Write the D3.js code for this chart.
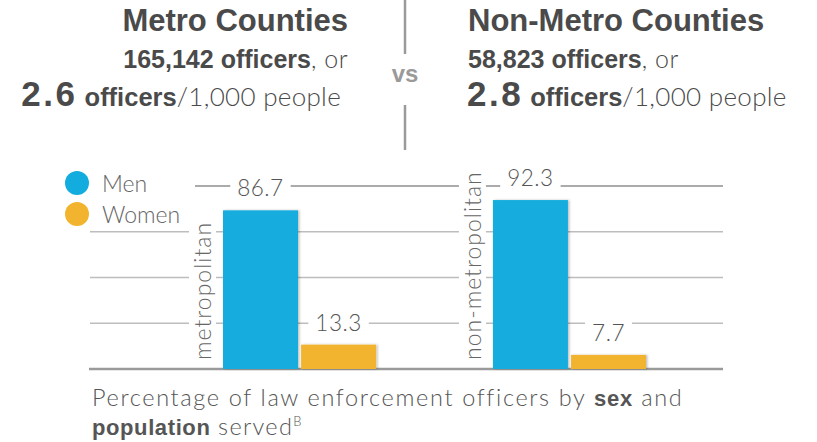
<!DOCTYPE html>
<html><head><meta charset="utf-8">
<script src="https://cdn.jsdelivr.net/npm/d3@7"></script>
<style>body{margin:0;background:#fff}svg{display:block}</style>
</head><body>
<script>
// ---- data ----
const groups = ["metropolitan", "non-metropolitan"];
const sexes = ["Men", "Women"];
const men = [86.7, 92.3];
const women = [13.3, 7.7];
const yTicks = [0, 25, 50, 75, 100];
const titles = ["Metro Counties", "Non-Metro Counties"];
const officers = ["165,142", "58,823"];
const rates = ["2.6", "2.8"];
const colors = ["#12ADDE", "#F2B42E"];

// ---- setup ----
const W = 817, H = 442;
const svg = d3.select("body").append("svg").attr("width", W).attr("height", H);
const LIGHT = "Lato, 'Open Sans', 'DejaVu Sans', sans-serif";
const BOLD = "'Liberation Sans', Arial, sans-serif";
const TXT = "#4a4a4a";

// ---- header ----
function header(i, x, anchor, end3) {
  const g = svg.append("g").attr("fill", TXT);
  g.append("text").attr("x", x).attr("y", 31).attr("text-anchor", anchor)
    .attr("font-family", BOLD).attr("font-weight", 700).attr("font-size", 31)
    .text(titles[i]);
  const t2 = g.append("text").attr("x", x).attr("y", 68).attr("text-anchor", anchor);
  t2.append("tspan").attr("font-family", BOLD).attr("font-weight", 700).attr("font-size", 25)
    .text(officers[i] + " officers");
  t2.append("tspan").attr("font-family", LIGHT).attr("font-weight", 300).attr("font-size", 25)
    .attr("letter-spacing", 0.5).text(", or");
  const t3 = g.append("text").attr("x", end3).attr("y", 106).attr("text-anchor", anchor);
  t3.append("tspan").attr("font-family", BOLD).attr("font-weight", 700).attr("font-size", 35)
    .attr("letter-spacing", 2.5).text(rates[i]);
  t3.append("tspan").attr("font-family", BOLD).attr("font-weight", 700).attr("font-size", 25.5)
    .attr("letter-spacing", 0).text(" officers");
  t3.append("tspan").attr("font-family", LIGHT).attr("font-weight", 300).attr("font-size", 26)
    .attr("letter-spacing", 0.3).text("/1,000 people");
}
header(0, 348, "end", 341);
header(1, 468, "start", 467);

// divider
svg.append("line").attr("x1", 405).attr("x2", 405).attr("y1", 0).attr("y2", 54)
  .attr("stroke", "#9a9a9a").attr("stroke-width", 2.5);
svg.append("line").attr("x1", 405).attr("x2", 405).attr("y1", 105).attr("y2", 150)
  .attr("stroke", "#9a9a9a").attr("stroke-width", 2.5);
svg.append("text").attr("x", 405).attr("y", 82).attr("text-anchor", "middle")
  .attr("font-family", BOLD).attr("font-weight", 700).attr("font-size", 24)
  .attr("fill", "#9a9a9a").text("vs");

// ---- chart ----
const y = d3.scaleLinear().domain([0, 100]).range([369, 186]);
const x0 = d3.scaleBand().domain(groups).range([223, 646]).paddingInner(0.433);
const x1 = d3.scaleBand().domain(sexes).range([0, x0.bandwidth()]).paddingInner(0.04);
const gridRight = 723, gridLeft = 90, topGridLeft = 195;

const grid = svg.append("g");
grid.selectAll("line").data(yTicks).join("line")
  .attr("x1", d => d === 100 ? topGridLeft : gridLeft - (d === 0 ? 1 : 0))
  .attr("x2", gridRight)
  .attr("y1", d => y(d)).attr("y2", d => y(d))
  .attr("stroke", d => d === 0 ? "#9a9a9a" : (d === 100 ? "#ababab" : "#bdbdbd"))
  .attr("stroke-width", d => d === 0 ? 2.5 : (d === 100 ? 2 : 1.3));

// legend
const leg = svg.append("g");
sexes.forEach((s, i) => {
  leg.append("circle").attr("cx", 77).attr("cy", 183 + i * 31).attr("r", 12).attr("fill", colors[i]);
  leg.append("text").attr("x", 102).attr("y", 192 + i * 30.5)
    .attr("font-family", LIGHT).attr("font-weight", 300).attr("font-size", 23)
    .attr("fill", "#666").text(s);
});

// shadow filter
const defs = svg.append("defs");
const f = defs.append("filter").attr("id", "sh").attr("x", "-10%").attr("y", "-10%").attr("width", "130%").attr("height", "130%");
f.append("feDropShadow").attr("dx", 1.5).attr("dy", 0).attr("stdDeviation", 1).attr("flood-color", "#000").attr("flood-opacity", 0.25);

const rows = groups.map((g, i) => ({ group: g, vals: [men[i], women[i]] }));

// group labels (rotated) with white background
rows.forEach(r => {
  const gg = svg.append("g").attr("transform", `translate(${x0(r.group) - 12},360) rotate(-90)`);
  const bg = gg.append("rect").attr("fill", "#fff");
  const t = gg.append("text").attr("x", 0).attr("y", 0)
    .attr("font-family", LIGHT).attr("font-weight", 300).attr("font-size", 23)
    .attr("letter-spacing", 1).attr("fill", "#666").text(r.group);
  const b = t.node().getBBox();
  bg.attr("x", b.x - 2).attr("y", b.y + 1).attr("width", b.width + 4).attr("height", b.height - 1);
});

// bars
const bars = svg.append("g");
rows.forEach(r => {
  r.vals.forEach((v, j) => {
    bars.append("rect")
      .attr("x", x0(r.group) + x1(sexes[j]))
      .attr("y", y(v))
      .attr("width", x1.bandwidth())
      .attr("height", y(0) - y(v))
      .attr("fill", colors[j])
      .attr("filter", "url(#sh)");
  });
});

// value labels
rows.forEach(r => {
  r.vals.forEach((v, j) => {
    const cx = x0(r.group) + x1(sexes[j]) + x1.bandwidth() / 2;
    const g = svg.append("g");
    const bg = g.append("rect").attr("fill", "#fff");
    const t = g.append("text").attr("x", cx).attr("y", y(v) - 22 + 8)
      .attr("text-anchor", "middle")
      .attr("font-family", LIGHT).attr("font-weight", 300).attr("font-size", 22.5)
      .attr("letter-spacing", 0.5).attr("fill", "#555").text(d3.format(".1f")(v));
    const b = t.node().getBBox();
    bg.attr("x", b.x - 7).attr("y", b.y).attr("width", b.width + 14).attr("height", b.height);
  });
});

// caption
const cap = svg.append("g").attr("fill", "#555");
const c1 = cap.append("text").attr("x", 92).attr("y", 406).attr("font-size", 23.5);
c1.append("tspan").attr("font-family", LIGHT).attr("font-weight", 300).attr("letter-spacing", 1.65)
  .text("Percentage of law enforcement officers by ");
c1.append("tspan").attr("font-family", BOLD).attr("font-weight", 700).attr("font-size", 22)
  .attr("letter-spacing", 0.8).text("sex");
c1.append("tspan").attr("font-family", LIGHT).attr("font-weight", 300).attr("letter-spacing", 1.65).text(" and");
const c2 = cap.append("text").attr("x", 92).attr("y", 435).attr("font-size", 23.5);
c2.append("tspan").attr("font-family", BOLD).attr("font-weight", 700).attr("font-size", 22)
  .attr("letter-spacing", 0.6).text("population");
c2.append("tspan").attr("font-family", LIGHT).attr("font-weight", 300).attr("letter-spacing", 1.3).text(" served");
c2.append("tspan").attr("font-family", LIGHT).attr("font-weight", 300).attr("font-size", 13).attr("dy", -9).text("B");
</script>
</body></html>
